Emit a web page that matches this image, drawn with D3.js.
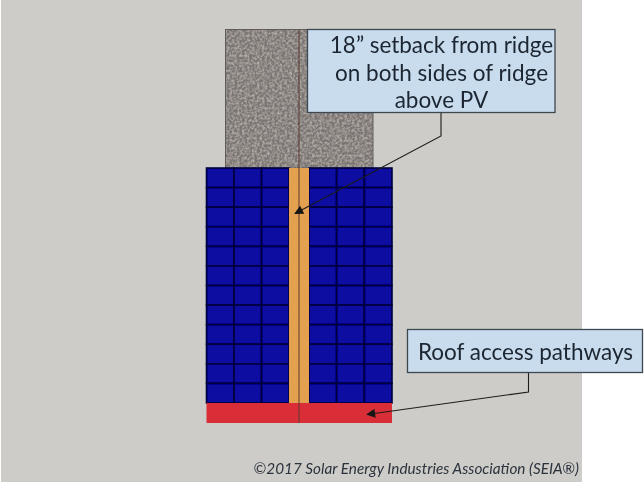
<!DOCTYPE html>
<html>
<head>
<style>
  html, body { margin: 0; padding: 0; background: #fff; }
  svg { display: block; }
</style>
</head>
<body>
<svg width="644" height="483"></svg>
<script src="https://d3js.org/d3.v7.min.js"></script>
<script>

// roof layout: 3 panel columns each side of the setback strip, 12 rows
var panelRows = ["r1", "r2", "r3", "r4", "r5", "r6", "r7", "r8", "r9", "r10", "r11", "r12"];
var leftColumns = ["a", "b", "c"];
var rightColumns = ["d", "e", "f"];

var ridgeLabel = ["18” setback from ridge", "on both sides of ridge", "above PV"];
var pathwayLabel = ["Roof access pathways"];
var credit = "©2017 Solar Energy Industries Association (SEIA®)";

var svg = d3.select("svg"),
    width = +svg.attr("width"),
    height = +svg.attr("height");

var defs = svg.append("defs");

// shingle texture for the upper roof
var shingle = defs.append("filter").attr("id", "shingle")
    .attr("x", 0).attr("y", 0).attr("width", 1).attr("height", 1);
shingle.append("feTurbulence")
    .attr("type", "fractalNoise").attr("baseFrequency", 0.4)
    .attr("numOctaves", 2).attr("seed", 4).attr("result", "n");
shingle.append("feColorMatrix").attr("in", "n").attr("type", "matrix")
    .attr("values", "0 0 0 0 0.60  0 0 0 0 0.54  0 0 0 0 0.49  1.5 0 0 0 -0.55")
    .attr("result", "c");
shingle.append("feComposite").attr("in", "c").attr("in2", "SourceGraphic").attr("operator", "in").attr("result", "t");
shingle.append("feMerge").selectAll("feMergeNode")
    .data(["SourceGraphic", "t"]).enter().append("feMergeNode").attr("in", function(d) { return d; });

// the reference is a slightly soft photo
defs.append("filter").attr("id", "soft")
    .append("feGaussianBlur").attr("stdDeviation", 0.45);

defs.append("marker").attr("id", "arrow")
    .attr("viewBox", "0 0 10 10").attr("refX", 9).attr("refY", 5)
    .attr("markerWidth", 11).attr("markerHeight", 9)
    .attr("markerUnits", "userSpaceOnUse").attr("orient", "auto")
  .append("path").attr("d", "M0,0L10,5L0,10Z").attr("fill", "#141414");

var y = d3.scaleBand().domain(panelRows).range([168, 403]);
var xLeft = d3.scaleBand().domain(leftColumns).range([206.5, 289]);
var xRight = d3.scaleBand().domain(rightColumns).range([309, 392]);

var ridgeX = 299,
    stripBottom = y.range()[1],
    redHeight = 20;

var scene = svg.append("g").attr("filter", "url(#soft)");

scene.append("rect")
    .attr("x", 1).attr("y", 0)
    .attr("width", 581).attr("height", 482)
    .attr("fill", "#cdccc8");

// upper roof
scene.append("rect")
    .attr("x", 225.5).attr("y", 29.5)
    .attr("width", 147.5).attr("height", y.range()[0] - 29.5)
    .attr("fill", "#797573")
    .attr("filter", "url(#shingle)");
scene.append("rect")
    .attr("x", 225.5).attr("y", 29.5)
    .attr("width", 147.5).attr("height", y.range()[0] - 29.5)
    .attr("fill", "none").attr("stroke", "#5e5c5a");

// panels
[[xLeft, leftColumns], [xRight, rightColumns]].forEach(function(side) {
  var x = side[0];
  var cells = d3.cross(side[1], panelRows);
  scene.append("g").selectAll("rect")
    .data(cells)
    .enter().append("rect")
      .attr("x", function(d) { return x(d[0]); })
      .attr("y", function(d) { return y(d[1]); })
      .attr("width", x.bandwidth())
      .attr("height", y.bandwidth())
      .attr("fill", "#0808a2")
      .attr("stroke", "#04043c")
      .attr("stroke-width", 1.6);
});

// setback strip along the ridge
scene.append("rect")
    .attr("x", xLeft.range()[1]).attr("y", y.range()[0])
    .attr("width", xRight.range()[0] - xLeft.range()[1])
    .attr("height", stripBottom - y.range()[0])
    .attr("fill", "#e3a04f");

// access pathway along the bottom
scene.append("rect")
    .attr("x", xLeft.range()[0]).attr("y", stripBottom)
    .attr("width", xRight.range()[1] - xLeft.range()[0])
    .attr("height", redHeight)
    .attr("fill", "#d92f38");

// ridge line
scene.append("line")
    .attr("x1", ridgeX).attr("x2", ridgeX)
    .attr("y1", 29.5).attr("y2", stripBottom + redHeight)
    .attr("stroke", "#5a3a30").attr("stroke-width", 1);

// leaders
var leader = d3.line();
scene.append("path")
    .attr("d", leader([[441, 113], [441, 136], [295, 213.5]]))
    .attr("fill", "none").attr("stroke", "#1c1c1c").attr("stroke-width", 1.1)
    .attr("marker-end", "url(#arrow)");
scene.append("path")
    .attr("d", leader([[528.5, 373], [528.5, 392], [367, 414.5]]))
    .attr("fill", "none").attr("stroke", "#1c1c1c").attr("stroke-width", 1.1)
    .attr("marker-end", "url(#arrow)");

// callouts
function callout(bx, by, bw, bh, lines, baseline, lineStep, cx) {
  scene.append("rect")
      .attr("x", bx).attr("y", by)
      .attr("width", bw).attr("height", bh)
      .attr("fill", "#c8dcee")
      .attr("stroke", "#3c4650").attr("stroke-width", 1.3);
  scene.append("g").selectAll("text")
    .data(lines)
    .enter().append("text")
      .attr("x", cx)
      .attr("y", function(d, i) { return baseline + i * lineStep; })
      .attr("text-anchor", "middle")
      .attr("font-family", "Lato, sans-serif")
      .attr("font-size", 22.5)
      .attr("fill", "#1d2631")
      .text(function(d) { return d; });
}
callout(307.5, 29.5, 247.5, 83, ridgeLabel, 53, 27.5, 441.5);
callout(407.5, 329.5, 235, 43, pathwayLabel, 360, 0, 525.5);

scene.append("text")
    .attr("x", 579).attr("y", 474)
    .attr("text-anchor", "end")
    .attr("font-family", "Lato, sans-serif")
    .attr("font-size", 15.3)
    .attr("font-style", "italic")
    .attr("fill", "#2b333c")
    .text(credit);

</script>
</body>
</html>
